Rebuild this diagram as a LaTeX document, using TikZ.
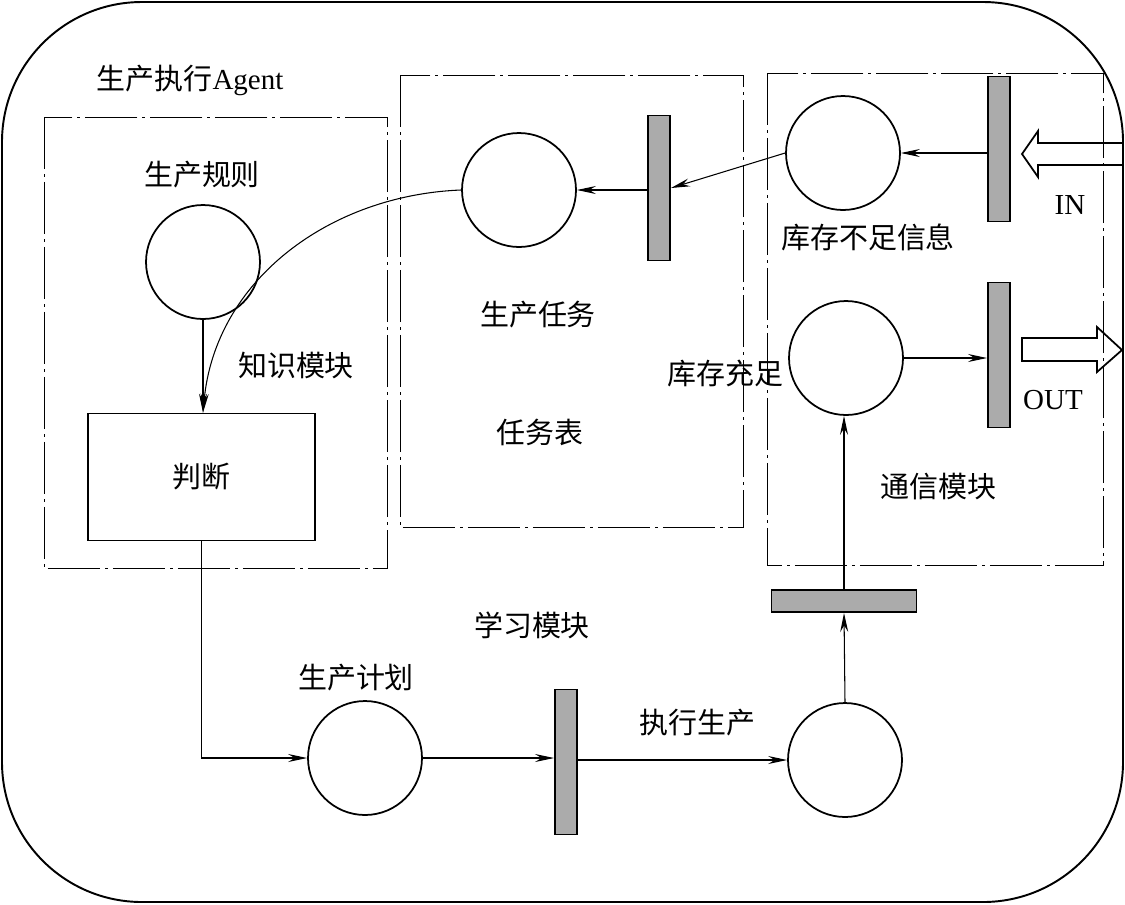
\documentclass[tikz,border=0pt]{standalone}
\usepackage{fontspec}
\setmainfont{Liberation Serif}
\newfontfamily\cjk{Noto Sans CJK SC}
\usepackage{tikz}
\usetikzlibrary{arrows.meta}
\tikzset{
  place/.style={circle,draw,line width=1pt,minimum size=2.28cm,inner sep=0pt},
  trv/.style={draw,fill=black!33,line width=1.1pt,minimum width=0.44cm,minimum height=2.9cm,inner sep=0pt},
  trh/.style={trv,minimum width=2.9cm,minimum height=0.44cm},
  arc/.style={line width=0.6pt,-{Stealth[length=3.8mm,width=1.6mm,inset=1.3mm]}},
  modbox/.style={line width=0.5pt,dash pattern=on 1.05cm off 0.1cm on 0.05cm off 0.1cm},
  fat/.style={line width=1pt},
  lbl/.style={font=\fontsize{16.5pt}{18pt}\selectfont,inner sep=0pt}
}
\newcommand{\zh}[1]{{\cjk #1}}

\begin{document}
\begin{tikzpicture}[x=0.02cm,y=-0.02cm]
\useasboundingbox (0,0) rectangle (1125,904);
\draw[line width=1.1pt,rounded corners=2.8cm] (2,2) rectangle (1123,902);
% module frames
\draw[modbox] (44,117) rectangle (387,568);
\draw[modbox] (400,75) rectangle (743,527);
\draw[modbox] (767,73) rectangle (1103,565);
% places and transitions
\node[place] (rule) at (203,262) {};
\node[draw,line width=1pt,minimum width=4.54cm,minimum height=2.54cm,lbl] (judge) at (201.5,477) {\zh{判断}};
\node[place] (task) at (519,190) {};
\node[trv] (t1) at (659,188) {};
\node[place] (lack) at (843,153) {};
\node[trv] (t2) at (999,149) {};
\node[place] (enough) at (846,358) {};
\node[trv] (t3) at (999,355) {};
\node[trh] (t4) at (844,601) {};
\node[place] (plan) at (365,758) {};
\node[trv] (t5) at (566,762) {};
\node[place] (prod) at (845,760) {};
% arcs
\draw[arc] (t2.west |- lack.east) -- (lack.east);
\draw[arc] (lack.west) -- (t1.east);
\draw[arc] (t1.west |- task.east) -- (task.east);
\draw[arc] (rule.south) -- (rule.south |- judge.north);
\draw[arc] (task.west) .. controls (330,195) and (215,280) .. (rule.south |- judge.north);
\draw[arc] (judge.south) |- (plan.west);
\draw[arc] (plan.east) -- (plan.east -| t5.west);
\draw[arc] (t5.east |- prod.west) -- (prod.west);
\draw[arc] (prod.north) -- (t4.south);
\draw[arc] (t4.north) -- (t4.north |- enough.south);
\draw[arc] (enough.east) -- (enough.east -| t3.west);
% IN / OUT
\draw[fat] (1122,143) -- (1038,143) -- (1038,131) -- (1022,154) -- (1038,177) -- (1038,165) -- (1122,165);
\draw[fat] (1022,338) -- (1097,338) -- (1097,327) -- (1122,350) -- (1097,372) -- (1097,361) -- (1022,361) -- cycle;
% labels
\node[lbl] (agent) at (190,80) {\zh{生产执行}Agent};
\node[lbl] (lrule) at (202,175) {\zh{生产规则}};
\node[lbl] (lknow) at (296,365) {\zh{知识模块}};
\node[lbl] (ltask) at (538,315) {\zh{生产任务}};
\node[lbl] (ltable) at (540,432) {\zh{任务表}};
\node[lbl] (llack) at (868,237) {\zh{库存不足信息}};
\node[lbl] (lin) at (1070,205) {IN};
\node[lbl] (lenough) at (725,373) {\zh{库存充足}};
\node[lbl] (lout) at (1053,400) {OUT};
\node[lbl] (lcomm) at (938,487) {\zh{通信模块}};
\node[lbl] (llearn) at (532,625) {\zh{学习模块}};
\node[lbl] (lplan) at (356,678) {\zh{生产计划}};
\node[lbl] (lexec) at (697,723) {\zh{执行生产}};
\end{tikzpicture}
\end{document}
